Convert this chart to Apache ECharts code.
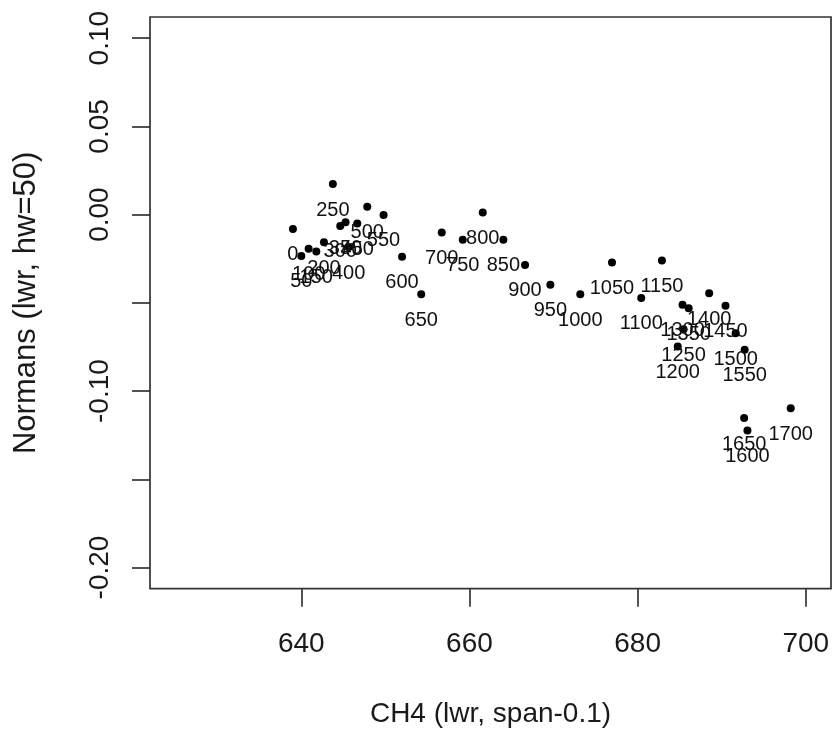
<!DOCTYPE html>
<html><head><meta charset="utf-8">
<script src="https://cdn.jsdelivr.net/npm/echarts@6/dist/echarts.min.js"></script>
<style>html,body{margin:0;padding:0;background:#fff}#c{width:833px;height:734px}</style>
</head><body><div id="c"></div>
<script>
// Point labels
const pointLabels = ['0','50','100','150','200','250','300','350','400','450','500','550','600','650',
  '700','750','800','850','900','950','1000','1050','1100','1150','1200','1250','1300','1350',
  '1400','1450','1500','1550','1600','1650','1700'];
// CH4 (lwr, span-0.1)
const ch4 = [639.0,640.0,640.87,641.78,642.69,643.75,644.63,645.26,645.62,646.65,647.84,649.78,651.98,654.26,
  656.70,659.20,661.58,664.03,666.61,669.62,673.18,676.95,680.43,682.89,684.77,685.46,685.34,686.07,
  688.51,690.45,691.66,692.73,693.06,692.67,698.21];
// Normans (lwr, hw=50)
const normans = [-0.0081,-0.0234,-0.0194,-0.0209,-0.0156,0.0173,-0.0064,-0.0043,-0.0185,-0.0051,0.0045,-0.0002,-0.0239,-0.0451,
  -0.0102,-0.0143,0.0012,-0.0143,-0.0285,-0.0398,-0.0451,-0.0272,-0.0472,-0.0260,-0.0748,-0.0649,-0.0511,-0.0530,
  -0.0445,-0.0517,-0.0672,-0.0766,-0.1224,-0.1153,-0.1097];
const xTicks = [640,660,680,700];
const yTicks = [-0.2,-0.15,-0.1,-0.05,0,0.05,0.1];
const yTickLabels = [-0.2,-0.1,0,0.05,0.1];

const FONT = 'Liberation Sans, Arial, Helvetica, sans-serif';
const TXT = '#1a1a1a';
const LINE = '#333';
const SYM = 8;

const data = ch4.map((x, i) => ({ name: pointLabels[i], value: [x, normans[i]] }));

const chart = echarts.init(document.getElementById('c'), null, { renderer: 'canvas' });
chart.setOption({
  backgroundColor: '#fff',
  animation: false,
  grid: { left: 150, top: 17, width: 681, height: 571.7, show: true, borderColor: LINE, borderWidth: 1.7, backgroundColor: 'transparent' },
  xAxis: {
    type: 'value', min: 622, max: 703,
    name: 'CH4 (lwr, span-0.1)', nameLocation: 'middle', nameGap: 112,
    nameTextStyle: { fontFamily: FONT, fontSize: 28, color: TXT },
    axisLine: { show: false, onZero: false },
    splitLine: { show: false },
    axisTick: { show: true, inside: false, length: 18, customValues: xTicks, lineStyle: { color: LINE, width: 1.7 } },
    axisLabel: { customValues: xTicks, margin: 42, fontFamily: FONT, fontSize: 28, color: TXT }
  },
  yAxis: {
    type: 'value', min: -0.212, max: 0.112,
    name: 'Normans (lwr, hw=50)', nameLocation: 'middle', nameGap: 108, nameRotate: 90,
    nameTextStyle: { fontFamily: FONT, fontSize: 31, color: TXT },
    axisLine: { show: false, onZero: false },
    splitLine: { show: false },
    axisTick: { show: true, inside: false, length: 18, customValues: yTicks, lineStyle: { color: LINE, width: 1.7 } },
    axisLabel: { customValues: yTickLabels, rotate: 90, margin: 36, fontFamily: FONT, fontSize: 28, color: TXT,
      formatter: v => v.toFixed(2) }
  },
  series: [{
    type: 'scatter',
    symbol: 'circle', symbolSize: SYM,
    itemStyle: { color: '#000', opacity: 1 },
    data: data,
    label: {
      show: true, position: [SYM / 2, SYM / 2 + 26],
      formatter: '{b}', fontFamily: FONT, fontSize: 20, color: '#111', opacity: 1,
      align: 'center', verticalAlign: 'middle'
    },
    labelLayout: { hideOverlap: false }
  }]
});
</script>
</body></html>
